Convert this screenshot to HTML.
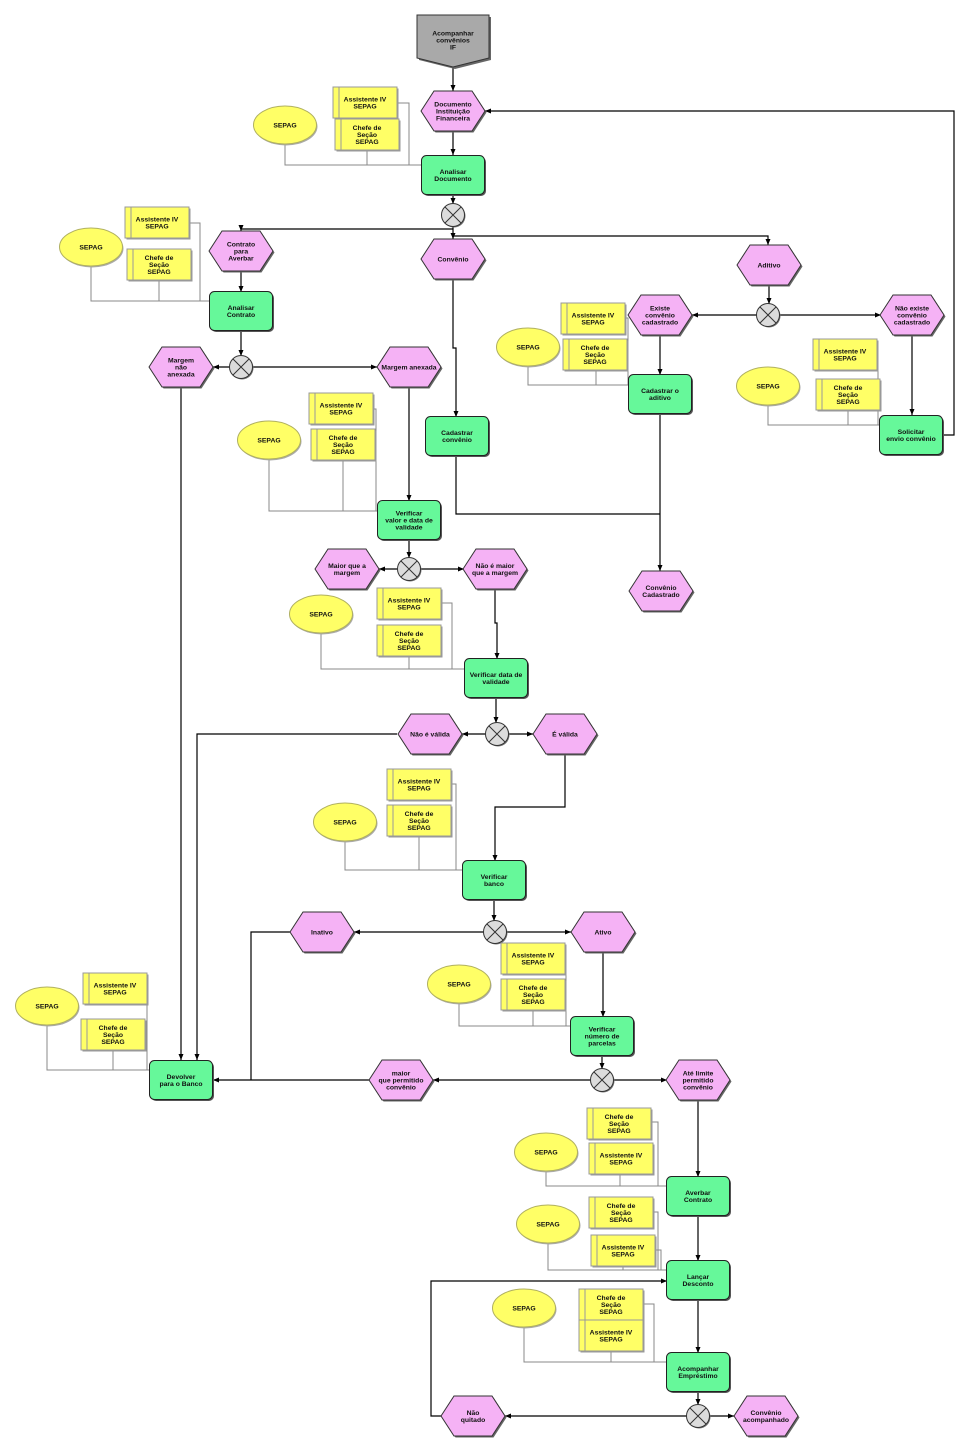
<!DOCTYPE html>
<html><head><meta charset="utf-8"><style>
html,body{margin:0;padding:0;background:#fff;}
svg{display:block;}
text{font-family:"Liberation Sans",Arial,sans-serif;font-size:6.8px;font-weight:bold;fill:#111;text-anchor:middle;}
.f{fill:none;stroke:#000;stroke-width:1.2;}
.o{fill:none;stroke:#888;stroke-width:1;}
</style></head><body>
<svg width="961" height="1453" viewBox="0 0 961 1453" xmlns="http://www.w3.org/2000/svg">
<defs>
<marker id="a" viewBox="0 0 6 6" refX="6" refY="3" markerWidth="6" markerHeight="6" markerUnits="userSpaceOnUse" orient="auto"><path d="M0,0.5 L6,3 L0,5.5z" fill="#000"/></marker>
<g id="hx"><polygon points="-30.5,1.5 -17.5,-18.5 20.5,-18.5 33.5,1.5 20.5,21.5 -17.5,21.5" fill="#666"/><polygon points="-32,0 -19,-20 19,-20 32,0 19,20 -19,20" fill="#F5B2F5" stroke="#333" stroke-width="1"/></g>
<g id="fn"><rect x="-30" y="-18" width="63" height="39" rx="5" fill="#555"/><rect x="-31.5" y="-19.5" width="63" height="39" rx="5" fill="#66F89A" stroke="#222" stroke-width="1"/></g>
<g id="rl"><rect x="1.5" y="1.5" width="64" height="31" fill="#999"/><rect x="0" y="0" width="64" height="31" fill="#FFFF66" stroke="#999" stroke-width="1"/><line x1="6" y1="0" x2="6" y2="31" stroke="#999"/></g>
<g id="el"><ellipse cx="1" cy="1.5" rx="31.5" ry="19" fill="#aaa"/><ellipse rx="31.5" ry="19" fill="#FFFF66" stroke="#B0B060" stroke-width="1"/></g>
<g id="xr"><circle cx="1" cy="1" r="11.5" fill="#777"/><circle r="11.5" fill="#DCDCDC" stroke="#333" stroke-width="1"/><path d="M-8,-8 L8,8 M8,-8 L-8,8" stroke="#333" stroke-width="1"/></g>
</defs>

<!-- org lines -->
<path class="o" d="M285,144 V165 H421 M367,151 V165 M397,103 H409 V165"/>
<path class="o" d="M91,266 V301 H209 M159,280 V301 M189,223 H200 V301"/>
<path class="o" d="M269,460 V511 H378 M343,460 V511 M372,409 H376 V511"/>
<path class="o" d="M528,366 V385 H629 M596,371 V385 M625,318 H628 V385"/>
<path class="o" d="M768,406 V425 H880 M848,411 V425 M877,355 H878 V425"/>
<path class="o" d="M321,634 V669 H464 M409,656 V669 M441,603 H452 V669"/>
<path class="o" d="M345,841 V870 H463 M419,837 V870 M451,784 H456 V870"/>
<path class="o" d="M459,1004 V1026 H571 M533,1011 V1026 M565,958 H566 V1026"/>
<path class="o" d="M47,1025 V1070 H149 M113,1050 V1070 M147,988 V1070"/>
<path class="o" d="M546,1171 V1186 H667 M620,1174 V1186 M651,1122 H658 V1186"/>
<path class="o" d="M548,1243 V1270 H667 M623,1267 V1270 M652,1212 H658 V1270 M655,1250 H661 V1270"/>
<path class="o" d="M524,1327 V1362 H667 M611,1350 V1362 M643,1304 H654 V1362"/>

<!-- flow lines -->
<g class="f" marker-end="url(#a)">
<path d="M453,67 V91"/>
<path d="M453,131 V155"/>
<path d="M453,195 V204"/>
<path d="M453,226 V239"/>
<path d="M453,229 H241 V231"/>
<path d="M453,236 H768 V245"/>
<path d="M241,271 V292"/>
<path d="M241,331 V356"/>
<path d="M230,367 H213"/>
<path d="M252,367 H377"/>
<path d="M181,388 V1060"/>
<path d="M409,388 V501"/>
<path d="M409,540 V558"/>
<path d="M398,569 H379"/>
<path d="M420,569 H464"/>
<path d="M495,589 V623 H497 V659"/>
<path d="M496,697 V723"/>
<path d="M486,734 H462"/>
<path d="M508,734 H533"/>
<path d="M397,734 H197 V1060"/>
<path d="M565,754 V807 H495 V861"/>
<path d="M494,900 V921"/>
<path d="M484,932 H354"/>
<path d="M506,932 H571"/>
<path d="M603,952 V1017"/>
<path d="M602,1055 V1069"/>
<path d="M591,1080 H433"/>
<path d="M613,1080 H667"/>
<path d="M369,1080 H213"/>
<path d="M698,1100 V1177"/>
<path d="M698,1216 V1261"/>
<path d="M698,1299 V1353"/>
<path d="M698,1392 V1405"/>
<path d="M687,1416 H505"/>
<path d="M709,1416 H734"/>
<path d="M441,1416 H431 V1281 H667"/>
<path d="M453,279 V348 H456 V417"/>
<path d="M769,286 V304"/>
<path d="M757,315 H692"/>
<path d="M780,315 H881"/>
<path d="M660,336 V375"/>
<path d="M660,414 V571"/>
<path d="M912,336 V415"/>
<path d="M943,435 H954 V111 H485"/>
</g>
<path class="f" d="M290,932 H251 V1080"/>
<path class="f" d="M456,455 V514 H660"/>

<!-- start -->
<polygon points="419,17 491,17 491,60 455,69 419,60" fill="#666"/>
<polygon points="417,15 489,15 489,58 453,67 417,58" fill="#A9A9A9" stroke="#333" stroke-width="1"/>
<text x="453" y="35.5">Acompanhar<tspan x="453" dy="7">convênios</tspan><tspan x="453" dy="7">IF</tspan></text>

<!-- events -->
<use href="#hx" x="453" y="111"/>
<use href="#hx" x="241" y="251"/>
<use href="#hx" x="453" y="259"/>
<use href="#hx" x="769" y="265"/>
<use href="#hx" x="660" y="315"/>
<use href="#hx" x="912" y="315"/>
<use href="#hx" x="181" y="367"/>
<use href="#hx" x="409" y="367"/>
<use href="#hx" x="661" y="591"/>
<use href="#hx" x="347" y="569"/>
<use href="#hx" x="495" y="569"/>
<use href="#hx" x="430" y="734"/>
<use href="#hx" x="565" y="734"/>
<use href="#hx" x="322" y="932"/>
<use href="#hx" x="603" y="932"/>
<use href="#hx" x="401" y="1080"/>
<use href="#hx" x="698" y="1080"/>
<use href="#hx" x="473" y="1416"/>
<use href="#hx" x="766" y="1416"/>

<!-- functions -->
<use href="#fn" x="453" y="175"/>
<use href="#fn" x="241" y="311"/>
<use href="#fn" x="457" y="436"/>
<use href="#fn" x="660" y="394"/>
<use href="#fn" x="911" y="435"/>
<use href="#fn" x="409" y="520"/>
<use href="#fn" x="496" y="678"/>
<use href="#fn" x="494" y="880"/>
<use href="#fn" x="602" y="1036"/>
<use href="#fn" x="181" y="1080"/>
<use href="#fn" x="698" y="1196"/>
<use href="#fn" x="698" y="1280"/>
<use href="#fn" x="698" y="1372"/>

<!-- xor -->
<use href="#xr" x="453" y="215"/>
<use href="#xr" x="241" y="367"/>
<use href="#xr" x="768" y="315"/>
<use href="#xr" x="409" y="569"/>
<use href="#xr" x="497" y="734"/>
<use href="#xr" x="495" y="932"/>
<use href="#xr" x="602" y="1080"/>
<use href="#xr" x="698" y="1416"/>

<!-- roles -->
<use href="#rl" x="333" y="87"/><use href="#rl" x="335" y="119"/>
<use href="#rl" x="125" y="207"/><use href="#rl" x="127" y="249"/>
<use href="#rl" x="309" y="393"/><use href="#rl" x="311" y="429"/>
<use href="#rl" x="561" y="303"/><use href="#rl" x="563" y="339"/>
<use href="#rl" x="813" y="339"/><use href="#rl" x="816" y="379"/>
<use href="#rl" x="377" y="588"/><use href="#rl" x="377" y="625"/>
<use href="#rl" x="387" y="769"/><use href="#rl" x="387" y="805"/>
<use href="#rl" x="501" y="943"/><use href="#rl" x="501" y="979"/>
<use href="#rl" x="83" y="973"/><use href="#rl" x="81" y="1019"/>
<use href="#rl" x="587" y="1108"/><use href="#rl" x="589" y="1143"/>
<use href="#rl" x="589" y="1197"/><use href="#rl" x="591" y="1235"/>
<use href="#rl" x="579" y="1289"/><use href="#rl" x="579" y="1320"/>

<!-- ellipses -->
<use href="#el" x="285" y="125"/>
<use href="#el" x="91" y="247"/>
<use href="#el" x="269" y="440"/>
<use href="#el" x="528" y="347"/>
<use href="#el" x="768" y="386"/>
<use href="#el" x="321" y="614"/>
<use href="#el" x="345" y="822"/>
<use href="#el" x="459" y="984"/>
<use href="#el" x="47" y="1006"/>
<use href="#el" x="546" y="1152"/>
<use href="#el" x="548" y="1224"/>
<use href="#el" x="524" y="1308"/>

<!-- event texts -->
<text x="453" y="106.5">Documento<tspan x="453" dy="7">Instituição</tspan><tspan x="453" dy="7">Financeira</tspan></text>
<text x="241" y="246.5">Contrato<tspan x="241" dy="7">para</tspan><tspan x="241" dy="7">Averbar</tspan></text>
<text x="453" y="261.5">Convênio</text>
<text x="769" y="267.5">Aditivo</text>
<text x="660" y="310.5">Existe<tspan x="660" dy="7">convênio</tspan><tspan x="660" dy="7">cadastrado</tspan></text>
<text x="912" y="310.5">Não existe<tspan x="912" dy="7">convênio</tspan><tspan x="912" dy="7">cadastrado</tspan></text>
<text x="181" y="362.5">Margem<tspan x="181" dy="7">não</tspan><tspan x="181" dy="7">anexada</tspan></text>
<text x="409" y="369.5">Margem anexada</text>
<text x="661" y="590">Convênio<tspan x="661" dy="7">Cadastrado</tspan></text>
<text x="347" y="568">Maior que a<tspan x="347" dy="7">margem</tspan></text>
<text x="495" y="568">Não é maior<tspan x="495" dy="7">que a margem</tspan></text>
<text x="430" y="736.5">Não é válida</text>
<text x="565" y="736.5">É válida</text>
<text x="322" y="934.5">Inativo</text>
<text x="603" y="934.5">Ativo</text>
<text x="401" y="1075.5">maior<tspan x="401" dy="7">que permitido</tspan><tspan x="401" dy="7">convênio</tspan></text>
<text x="698" y="1075.5">Até limite<tspan x="698" dy="7">permitido</tspan><tspan x="698" dy="7">convênio</tspan></text>
<text x="473" y="1415">Não<tspan x="473" dy="7">quitado</tspan></text>
<text x="766" y="1415">Convênio<tspan x="766" dy="7">acompanhado</tspan></text>

<!-- function texts -->
<text x="453" y="174">Analisar<tspan x="453" dy="7">Documento</tspan></text>
<text x="241" y="310">Analisar<tspan x="241" dy="7">Contrato</tspan></text>
<text x="457" y="435">Cadastrar<tspan x="457" dy="7">convênio</tspan></text>
<text x="660" y="393">Cadastrar o<tspan x="660" dy="7">aditivo</tspan></text>
<text x="911" y="434">Solicitar<tspan x="911" dy="7">envio convênio</tspan></text>
<text x="409" y="515.5">Verificar<tspan x="409" dy="7">valor e data de</tspan><tspan x="409" dy="7">validade</tspan></text>
<text x="496" y="677">Verificar data de<tspan x="496" dy="7">validade</tspan></text>
<text x="494" y="879">Verificar<tspan x="494" dy="7">banco</tspan></text>
<text x="602" y="1031.5">Verificar<tspan x="602" dy="7">número de</tspan><tspan x="602" dy="7">parcelas</tspan></text>
<text x="181" y="1079">Devolver<tspan x="181" dy="7">para o Banco</tspan></text>
<text x="698" y="1195">Averbar<tspan x="698" dy="7">Contrato</tspan></text>
<text x="698" y="1279">Lançar<tspan x="698" dy="7">Desconto</tspan></text>
<text x="698" y="1371">Acompanhar<tspan x="698" dy="7">Empréstimo</tspan></text>

<!-- role texts -->
<text x="365" y="101.5">Assistente IV<tspan x="365" dy="7">SEPAG</tspan></text>
<text x="367" y="130">Chefe de<tspan x="367" dy="7">Seção</tspan><tspan x="367" dy="7">SEPAG</tspan></text>
<text x="157" y="221.5">Assistente IV<tspan x="157" dy="7">SEPAG</tspan></text>
<text x="159" y="260">Chefe de<tspan x="159" dy="7">Seção</tspan><tspan x="159" dy="7">SEPAG</tspan></text>
<text x="341" y="407.5">Assistente IV<tspan x="341" dy="7">SEPAG</tspan></text>
<text x="343" y="440">Chefe de<tspan x="343" dy="7">Seção</tspan><tspan x="343" dy="7">SEPAG</tspan></text>
<text x="593" y="317.5">Assistente IV<tspan x="593" dy="7">SEPAG</tspan></text>
<text x="595" y="350">Chefe de<tspan x="595" dy="7">Seção</tspan><tspan x="595" dy="7">SEPAG</tspan></text>
<text x="845" y="353.5">Assistente IV<tspan x="845" dy="7">SEPAG</tspan></text>
<text x="848" y="390">Chefe de<tspan x="848" dy="7">Seção</tspan><tspan x="848" dy="7">SEPAG</tspan></text>
<text x="409" y="602.5">Assistente IV<tspan x="409" dy="7">SEPAG</tspan></text>
<text x="409" y="636">Chefe de<tspan x="409" dy="7">Seção</tspan><tspan x="409" dy="7">SEPAG</tspan></text>
<text x="419" y="783.5">Assistente IV<tspan x="419" dy="7">SEPAG</tspan></text>
<text x="419" y="816">Chefe de<tspan x="419" dy="7">Seção</tspan><tspan x="419" dy="7">SEPAG</tspan></text>
<text x="533" y="957.5">Assistente IV<tspan x="533" dy="7">SEPAG</tspan></text>
<text x="533" y="990">Chefe de<tspan x="533" dy="7">Seção</tspan><tspan x="533" dy="7">SEPAG</tspan></text>
<text x="115" y="987.5">Assistente IV<tspan x="115" dy="7">SEPAG</tspan></text>
<text x="113" y="1030">Chefe de<tspan x="113" dy="7">Seção</tspan><tspan x="113" dy="7">SEPAG</tspan></text>
<text x="619" y="1119">Chefe de<tspan x="619" dy="7">Seção</tspan><tspan x="619" dy="7">SEPAG</tspan></text>
<text x="621" y="1157.5">Assistente IV<tspan x="621" dy="7">SEPAG</tspan></text>
<text x="621" y="1208">Chefe de<tspan x="621" dy="7">Seção</tspan><tspan x="621" dy="7">SEPAG</tspan></text>
<text x="623" y="1249.5">Assistente IV<tspan x="623" dy="7">SEPAG</tspan></text>
<text x="611" y="1300">Chefe de<tspan x="611" dy="7">Seção</tspan><tspan x="611" dy="7">SEPAG</tspan></text>
<text x="611" y="1334.5">Assistente IV<tspan x="611" dy="7">SEPAG</tspan></text>

<!-- ellipse texts -->
<text x="285" y="127.5">SEPAG</text>
<text x="91" y="249.5">SEPAG</text>
<text x="269" y="442.5">SEPAG</text>
<text x="528" y="349.5">SEPAG</text>
<text x="768" y="388.5">SEPAG</text>
<text x="321" y="616.5">SEPAG</text>
<text x="345" y="824.5">SEPAG</text>
<text x="459" y="986.5">SEPAG</text>
<text x="47" y="1008.5">SEPAG</text>
<text x="546" y="1154.5">SEPAG</text>
<text x="548" y="1226.5">SEPAG</text>
<text x="524" y="1310.5">SEPAG</text>
</svg>
</body></html>
